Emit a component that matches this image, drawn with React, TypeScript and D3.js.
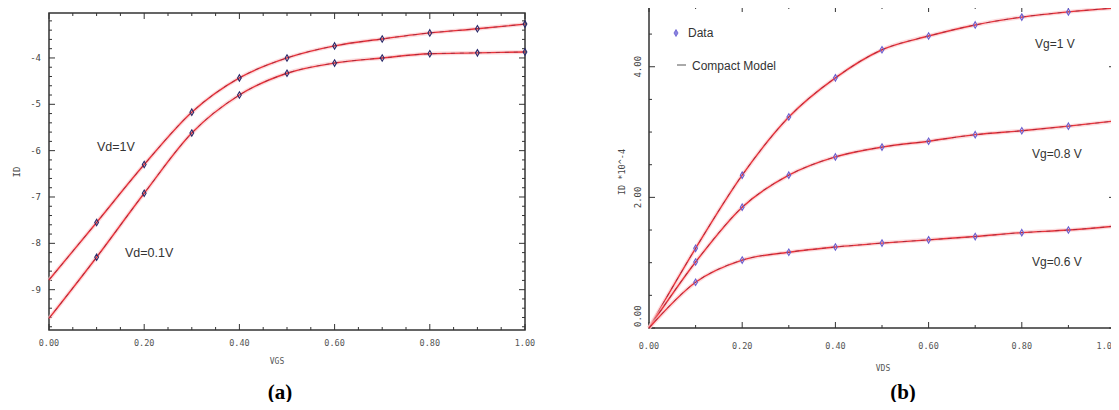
import React from "react";
import * as d3 from "d3";

const vgs = [0, 0.1, 0.2, 0.3, 0.4, 0.5, 0.6, 0.7, 0.8, 0.9, 1.0];
const idVd1 = [-8.79, -7.55, -6.3, -5.17, -4.43, -4.0, -3.74, -3.59, -3.46, -3.37, -3.27];
const idVd01 = [-9.62, -8.3, -6.92, -5.62, -4.8, -4.33, -4.11, -4.0, -3.91, -3.89, -3.87];
const leftYTicks = [-9, -8, -7, -6, -5, -4];
const leftXTicks = [0, 0.2, 0.4, 0.6, 0.8, 1.0];

const vds = [0, 0.1, 0.2, 0.3, 0.4, 0.5, 0.6, 0.7, 0.8, 0.9, 1.0];
const idVg1 = [0, 1.22, 2.34, 3.23, 3.83, 4.26, 4.47, 4.64, 4.76, 4.84, 4.9];
const idVg08 = [0, 1.01, 1.85, 2.34, 2.62, 2.77, 2.86, 2.96, 3.02, 3.09, 3.17];
const idVg06 = [0, 0.7, 1.04, 1.16, 1.24, 1.3, 1.35, 1.4, 1.46, 1.5, 1.56];
const rightYTicks = [0, 2, 4];
const rightXTicks = [0, 0.2, 0.4, 0.6, 0.8, 1.0];

const AX = "#333";
const RED = "#e8333a";
const TICKFONT = "'DejaVu Sans Mono', monospace";
const LABFONT = "'Liberation Sans', Arial, sans-serif";

function Curve({ xs, ys, x, y }: any) {
  const line = d3
    .line<number>()
    .x((_, i) => x(xs[i]))
    .y((d) => y(d))
    .curve(d3.curveMonotoneX);
  const d = line(ys) || "";
  return (
    <g>
      <path d={d} fill="none" stroke="#f9c4c8" strokeWidth={4} opacity={0.6} />
      <path d={d} fill="none" stroke={RED} strokeWidth={1.4} />
      <path d={d} fill="none" stroke="#6b1d3a" strokeWidth={0.8} strokeDasharray="4 5" opacity={0.6} />
    </g>
  );
}

function Markers({ xs, ys, x, y, color }: any) {
  return (
    <g>
      {ys.map((v: number, i: number) =>
        xs[i] === 0 ? null : (
          <path
            key={i}
            d={d3.symbol().type(d3.symbolDiamond).size(12)() || ""}
            transform={`translate(${x(xs[i])},${y(v)})`}
            fill="none"
            stroke={color}
            strokeWidth={1.1}
          />
        )
      )}
    </g>
  );
}

function Frame({ x, y, xMinor, yMinor, xMajor, yMajor }: any) {
  const [x0, x1] = x.range();
  const [y0, y1] = y.range();
  const items: any[] = [];
  xMinor.forEach((v: number, i: number) => {
    const px = x(v);
    const L = xMajor.some((m: number) => Math.abs(m - v) < 1e-6) ? 6 : 3;
    items.push(<line key={"xb" + i} x1={px} x2={px} y1={y0} y2={y0 - L} stroke={AX} strokeWidth={1} />);
    items.push(<line key={"xt" + i} x1={px} x2={px} y1={y1} y2={y1 + L} stroke={AX} strokeWidth={1} />);
  });
  yMinor.forEach((v: number, i: number) => {
    const py = y(v);
    const L = yMajor.some((m: number) => Math.abs(m - v) < 1e-6) ? 6 : 3;
    items.push(<line key={"yl" + i} x1={x0} x2={x0 + L} y1={py} y2={py} stroke={AX} strokeWidth={1} />);
    items.push(<line key={"yr" + i} x1={x1} x2={x1 - L} y1={py} y2={py} stroke={AX} strokeWidth={1} />);
  });
  return (
    <g>
      <rect x={x0} y={y1} width={x1 - x0} height={y0 - y1} fill="none" stroke={AX} strokeWidth={1.5} />
      {items}
    </g>
  );
}

export default function App() {
  // Left panel
  const xL = d3.scaleLinear().domain([0, 1]).range([49, 525]);
  const yL = d3.scaleLinear().domain([-9.87, -3.03]).range([330, 13]);
  const xLMinor = d3.range(0, 1.0001, 0.05);
  const yLMinor = d3.range(-9.8, -3.0, 0.2).map((v) => Math.round(v * 10) / 10);

  // Right panel
  const xR = d3.scaleLinear().domain([0, 1]).range([649, 1115]);
  const yR = d3.scaleLinear().domain([0, 4.93]).range([328, 6]);
  const xRMinor = d3.range(0, 1.0001, 0.1);
  const yRMinor = d3.range(0, 4.93, 0.5);

  return (
    <div style={{ margin: -8, width: 1119, height: 410, background: "#fff" }}>
      <svg width={1119} height={410} style={{ display: "block" }}>
        <rect width={1119} height={410} fill="#fff" />
        {/* Left panel */}
        <Frame x={xL} y={yL} xMinor={xLMinor} yMinor={yLMinor} xMajor={leftXTicks} yMajor={leftYTicks} />
        {leftYTicks.map((t) => (
          <text key={t} x={41} y={yL(t) + 3} fontSize={9} fontFamily={TICKFONT} textAnchor="end" fill="#444">
            {t}
          </text>
        ))}
        {leftXTicks.map((t) => (
          <text key={t} x={xL(t)} y={346} fontSize={8.5} fontFamily={TICKFONT} textAnchor="middle" fill="#555">
            {t.toFixed(2)}
          </text>
        ))}
        <text x={277} y={364} fontSize={8} fontFamily={TICKFONT} textAnchor="middle" fill="#555">VGS</text>
        <text transform="translate(20,172) rotate(-90)" fontSize={9} fontFamily={TICKFONT} textAnchor="middle" fill="#444">ID</text>
        <Curve xs={vgs} ys={idVd1} x={xL} y={yL} />
        <Curve xs={vgs} ys={idVd01} x={xL} y={yL} />
        <Markers xs={vgs} ys={idVd1} x={xL} y={yL} color="#2a2a6a" />
        <Markers xs={vgs} ys={idVd01} x={xL} y={yL} color="#2a2a6a" />
        <rect x={95} y={138} width={48} height={16} fill="#fff" />
        <text x={97} y={151} fontSize={12.5} fontFamily={LABFONT} fill="#333">Vd=1V</text>
        <text x={125} y={257} fontSize={12.5} fontFamily={LABFONT} fill="#333">Vd=0.1V</text>
        <text x={280} y={399} fontSize={21} fontFamily="'Liberation Serif', 'Times New Roman', serif" fontWeight="bold" textAnchor="middle" fill="#000">(a)</text>

        {/* Right panel */}
        <Frame x={xR} y={yR} xMinor={xRMinor} yMinor={yRMinor} xMajor={rightXTicks} yMajor={rightYTicks} />
        {rightYTicks.map((t) => (
          <text
            key={t}
            transform={`translate(${641},${t === 0 ? yR(t) - 1 : yR(t)}) rotate(-90)`}
            fontSize={9}
            fontFamily={TICKFONT}
            textAnchor={t === 0 ? "start" : "middle"}
            fill="#444"
          >
            {t.toFixed(2)}
          </text>
        ))}
        {rightXTicks.map((t) => (
          <text
            key={t}
            x={t === 1 ? 1117 : xR(t)}
            y={349}
            fontSize={8.5}
            fontFamily={TICKFONT}
            textAnchor={t === 1 ? "end" : "middle"}
            fill="#555"
          >
            {t.toFixed(2)}
          </text>
        ))}
        <text x={883} y={371} fontSize={8} fontFamily={TICKFONT} textAnchor="middle" fill="#555">VDS</text>
        <text transform="translate(625,172) rotate(-90)" fontSize={8.5} fontFamily={TICKFONT} textAnchor="middle" fill="#444">ID *10^-4</text>
        <Curve xs={vds} ys={idVg1} x={xR} y={yR} />
        <Curve xs={vds} ys={idVg08} x={xR} y={yR} />
        <Curve xs={vds} ys={idVg06} x={xR} y={yR} />
        <Markers xs={vds} ys={idVg1} x={xR} y={yR} color="#6a5fd0" />
        <Markers xs={vds} ys={idVg08} x={xR} y={yR} color="#6a5fd0" />
        <Markers xs={vds} ys={idVg06} x={xR} y={yR} color="#6a5fd0" />
        {/* Legend */}
        <path d={d3.symbol().type(d3.symbolDiamond).size(14)() || ""} transform="translate(676,33)" fill="#8a84e0" stroke="#6a5fd0" strokeWidth={0.8} />
        <text x={688} y={37} fontSize={12} fontFamily={LABFONT} fill="#333">Data</text>
        <line x1={677} x2={686} y1={65} y2={65} stroke="#555" strokeWidth={1} />
        <text x={692} y={70} fontSize={12} fontFamily={LABFONT} fill="#333">Compact Model</text>
        <text x={1035} y={48} fontSize={12} fontFamily={LABFONT} fill="#333">Vg=1 V</text>
        <text x={1032} y={158} fontSize={12} fontFamily={LABFONT} fill="#333">Vg=0.8 V</text>
        <text x={1032} y={266} fontSize={12} fontFamily={LABFONT} fill="#333">Vg=0.6 V</text>
        <text x={903} y={399} fontSize={21} fontFamily="'Liberation Serif', 'Times New Roman', serif" fontWeight="bold" textAnchor="middle" fill="#000">(b)</text>
      </svg>
    </div>
  );
}
